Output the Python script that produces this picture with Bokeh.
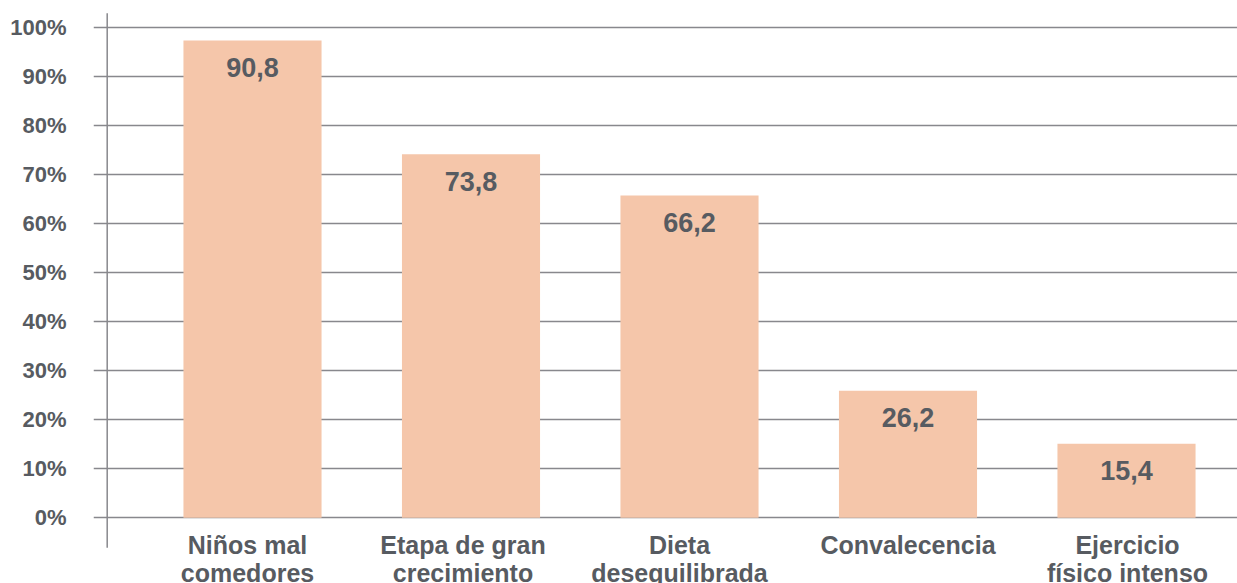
from bokeh.plotting import figure
from bokeh.models import Range1d, ColumnDataSource, FixedTicker
from bokeh.core.properties import value
from bokeh.embed import file_html
from bokeh.resources import INLINE

categories = ["Niños mal\ncomedores", "Etapa de gran\ncrecimiento", "Dieta\ndesequilibrada",
              "Convalecencia", "Ejercicio\nfísico intenso"]
bar_heights = [97.3, 74.1, 65.7, 25.9, 15.1]
value_labels = ["90,8", "73,8", "66,2", "26,2", "15,4"]
y_ticks = [0, 10, 20, 30, 40, 50, 60, 70, 80, 90, 100]
y_tick_labels = [f"{t}%" for t in y_ticks]

TEXT = "#575b61"
GRID = "#88888d"
BAR = "#f5c6aa"
FONT = "Liberation Sans"
label_dx = [-5, -8, -10, 0, 1]  # small pixel nudges of the category texts

xs = list(range(len(categories)))
line1 = [c.split("\n")[0] for c in categories]
line2 = [c.split("\n")[1] if "\n" in c else "" for c in categories]

src = ColumnDataSource(dict(x=xs, top=bar_heights, lab=value_labels, l1=line1, l2=line2,
                            zero=[0] * len(xs), dx=label_dx))

p = figure(width=1237, height=583, output_backend="svg", toolbar_location=None,
           x_range=Range1d(-0.7277, 4.508), y_range=Range1d(-13.39, 105.44),
           min_border_left=93, min_border_right=0, min_border_top=0, min_border_bottom=0)
p.outline_line_color = None
p.background_fill_color = "white"
p.border_fill_color = "white"
p.xaxis.visible = False
p.xgrid.visible = False

ax = p.yaxis[0]
ax.ticker = FixedTicker(ticks=y_ticks)
ax.major_label_overrides = {t: l for t, l in zip(y_ticks, y_tick_labels)}
ax.axis_line_color = None
ax.major_tick_line_color = None
ax.minor_tick_line_color = None
ax.major_label_standoff = 21
ax.major_label_text_font = FONT
ax.major_label_text_font_style = "bold"
ax.major_label_text_font_size = "22px"
ax.major_label_text_color = TEXT

p.ygrid.ticker = FixedTicker(ticks=y_ticks)
p.ygrid.grid_line_color = GRID
p.ygrid.grid_line_width = 1.3

# vertical axis line
p.segment(x0=[-0.665], y0=[-6.11], x1=[-0.665], y1=[102.85], line_color=GRID, line_width=1.5)

p.vbar(x="x", top="top", bottom=0, width=0.632, source=src, fill_color=BAR, line_color=None)

p.text(x="x", y="top", text="lab", source=src, text_align="center", text_baseline="middle",
       y_offset=27, text_font=value(FONT), text_font_style="bold", text_font_size="27px",
       text_color=TEXT)

p.text(x="x", y="zero", text="l1", source=src, text_align="center", text_baseline="alphabetic",
       x_offset="dx", y_offset=27.5, text_font=value(FONT), text_font_style="bold",
       text_font_size="25px", text_color=TEXT)
p.text(x="x", y="zero", text="l2", source=src, text_align="center", text_baseline="alphabetic",
       x_offset="dx", y_offset=55, text_font=value(FONT), text_font_style="bold",
       text_font_size="25px", text_color=TEXT)

open("out.html", "w").write(file_html(p, INLINE))
